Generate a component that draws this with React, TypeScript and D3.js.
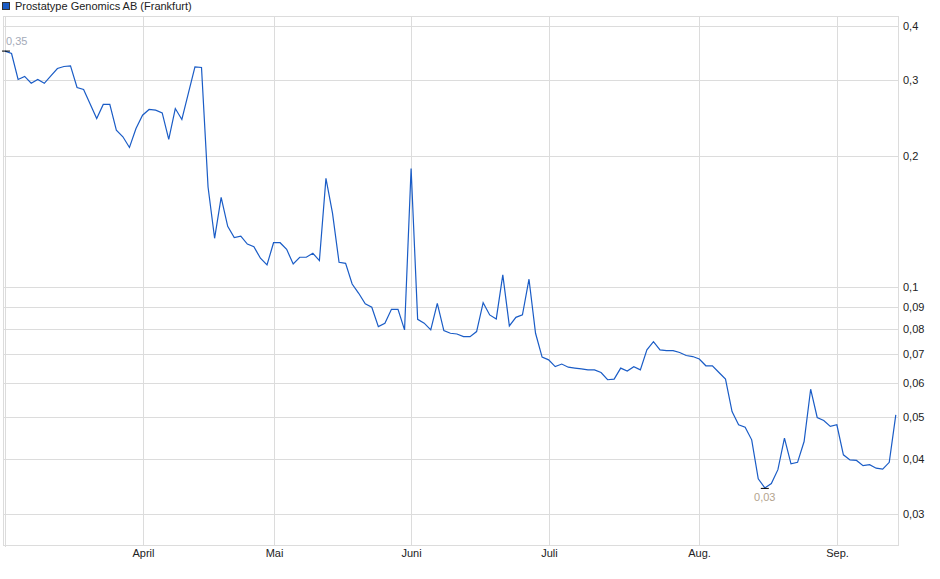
import React from "react";
import * as d3 from "d3";

const title = "Prostatype Genomics AB (Frankfurt)";

// daily closing prices (EUR), one per trading day
const prices: number[] = [
  0.35, 0.3455, 0.301, 0.306, 0.295, 0.301, 0.295, 0.307, 0.319, 0.3225,
  0.3235, 0.2885, 0.2854, 0.2644, 0.2447, 0.2636, 0.2636, 0.23, 0.222, 0.2098,
  0.232, 0.249, 0.2567, 0.2557, 0.2521, 0.2189, 0.258, 0.2434, 0.28, 0.322,
  0.3208, 0.17, 0.1295, 0.161, 0.138, 0.13, 0.131, 0.1256, 0.1238, 0.1165,
  0.1124, 0.1265, 0.1265, 0.1221, 0.113, 0.1171, 0.1171, 0.1196, 0.115, 0.178,
  0.148, 0.114, 0.1134, 0.1016, 0.0967, 0.0914, 0.0898, 0.081, 0.0825, 0.0888,
  0.0888, 0.0796, 0.1877, 0.0842, 0.0825, 0.0796, 0.0917, 0.0793, 0.0782, 0.0779,
  0.0768, 0.0768, 0.0789, 0.092, 0.0862, 0.0844, 0.1066, 0.0813, 0.0851, 0.0862,
  0.1042, 0.0782, 0.0689, 0.0679, 0.0655, 0.0664, 0.0653, 0.065, 0.0647, 0.0644,
  0.0644, 0.0635, 0.0611, 0.0613, 0.065, 0.064, 0.0655, 0.0644, 0.0716, 0.0748,
  0.0716, 0.0713, 0.0713, 0.0706, 0.0695, 0.0691, 0.0682, 0.0658, 0.0658, 0.0635,
  0.0613, 0.0516, 0.0481, 0.0475, 0.0444, 0.0361, 0.0344, 0.0352, 0.0379, 0.0448,
  0.0391, 0.0394, 0.044, 0.0581, 0.05, 0.0492, 0.0477, 0.0481, 0.041, 0.0399,
  0.0398, 0.0387, 0.0389, 0.0382, 0.038, 0.0394, 0.0507,
];

// month gridlines: label and trading-day index of the first day of the month
const monthLabels: string[] = ["", "April", "Mai", "Juni", "Juli", "Aug.", "Sep."];
const monthIndex: number[] = [0, 21, 41, 62, 83, 106, 127];

const yTicks: number[] = [0.4, 0.3, 0.2, 0.1, 0.09, 0.08, 0.07, 0.06, 0.05, 0.04, 0.03];

const W = 940;
const H = 579;
const plot = { left: 3, right: 898, top: 16, bottom: 545 };
const FONT = "'Liberation Sans', Arial, sans-serif";
const LINE = "#1a5cc6";
const GRID = "#dcdcdc";

const de = d3.formatLocale({ decimal: ",", thousands: ".", grouping: [3], currency: ["", " €"] });
const fmtTick = de.format("~g");
const fmt2 = de.format(".2f");

export default function App() {
  const x = d3.scaleLinear().domain([0, prices.length - 1]).range([5, 895.8]);
  const y = d3.scaleLog().domain([0.0254, 0.4217]).range([plot.bottom, plot.top]);

  const line = d3
    .line<number>()
    .x((_, i) => x(i))
    .y((d) => y(d));

  const maxI = d3.maxIndex(prices);
  const minI = d3.minIndex(prices);

  return (
    <svg
      width={W}
      height={H}
      style={{ position: "absolute", left: 0, top: 0, background: "#fff" }}
      fontFamily={FONT}
    >
      {/* legend */}
      <rect x={2.5} y={2.5} width={7} height={7} fill={LINE} stroke="#333" strokeWidth={1} />
      <text x={15} y={10} fontSize={11} fill="#222">
        {title}
      </text>

      {/* horizontal gridlines + y labels */}
      {yTicks.map((t) => (
        <g key={t}>
          <line
            x1={plot.left}
            x2={plot.right}
            y1={Math.round(y(t)) + 0.5}
            y2={Math.round(y(t)) + 0.5}
            stroke={GRID}
          />
          <text
            x={plot.right + 5}
            y={Math.round(y(t)) + 0.5}
            dy="0.35em"
            fontSize={11}
            fill="#222"
          >
            {fmtTick(t)}
          </text>
        </g>
      ))}

      {/* vertical month gridlines + labels */}
      {monthIndex.map((m, k) => {
        const xx = Math.round(x(m)) + 0.5;
        return (
          <g key={k}>
            <line x1={xx} x2={xx} y1={plot.top} y2={plot.bottom} stroke={GRID} />
            {k === 0 && <line x1={xx} x2={xx} y1={plot.bottom} y2={plot.bottom + 2} stroke={GRID} />}
            <text x={xx} y={557} textAnchor="middle" fontSize={11} fill="#222">
              {monthLabels[k]}
            </text>
          </g>
        );
      })}

      {/* plot border */}
      <rect
        x={plot.left + 0.5}
        y={plot.top + 0.5}
        width={plot.right - plot.left}
        height={plot.bottom - plot.top}
        fill="none"
        stroke={GRID}
      />

      {/* price line */}
      <path d={line(prices) || ""} fill="none" stroke={LINE} strokeWidth={1.2} strokeLinejoin="miter" />

      {/* high marker */}
      <line x1={2} x2={10} y1={y(prices[maxI])} y2={y(prices[maxI])} stroke="#000" strokeWidth={1} />
      <text x={6} y={45} fontSize={11} fill="#a3aab8">
        {fmt2(prices[maxI])}
      </text>

      {/* low marker */}
      <line
        x1={x(minI) - 4}
        x2={x(minI) + 4}
        y1={y(prices[minI]) + 0.5}
        y2={y(prices[minI]) + 0.5}
        stroke="#000"
        strokeWidth={1}
      />
      <text x={x(minI)} y={y(prices[minI]) + 13} textAnchor="middle" fontSize={11} fill="#b3a48e">
        {fmt2(prices[minI])}
      </text>
    </svg>
  );
}
